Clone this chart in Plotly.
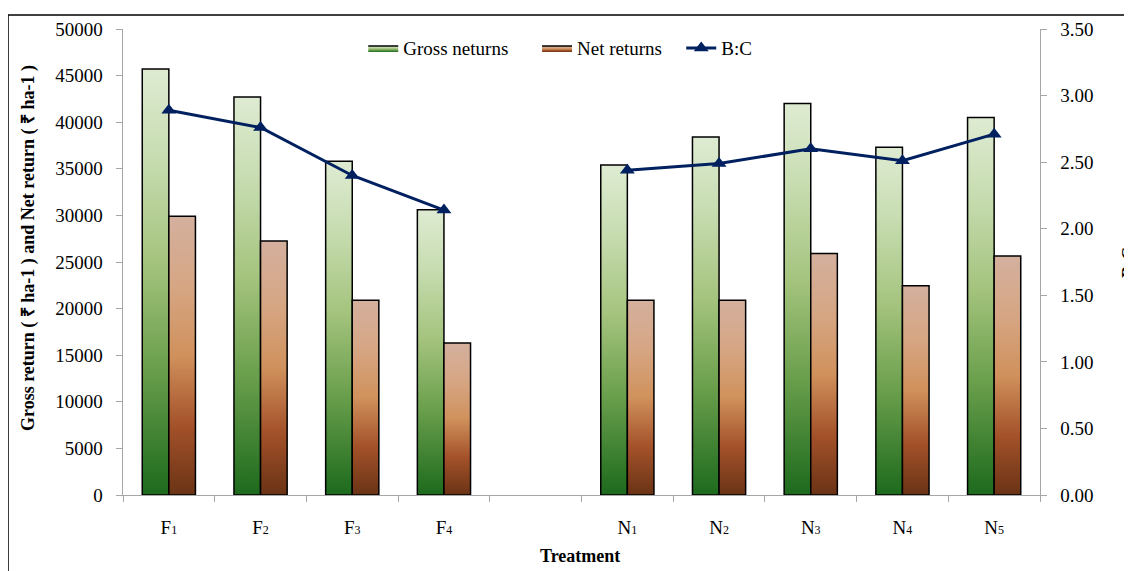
import plotly.graph_objects as go

# ---- data ----
categories = ["F1", "F2", "F3", "F4", "", "N1", "N2", "N3", "N4", "N5"]
tick_letters = ["F", "F", "F", "F", "", "N", "N", "N", "N", "N"]
tick_subs = ["1", "2", "3", "4", "", "1", "2", "3", "4", "5"]
gross_returns = [45700, 42700, 35800, 30600, None, 35400, 38400, 42000, 37300, 40500]
net_returns = [29900, 27250, 20900, 16300, None, 20900, 20900, 25900, 22450, 25650]
bc_ratio = [2.89, 2.76, 2.40, 2.14, None, 2.44, 2.49, 2.60, 2.51, 2.71]
series_names = ["Gross neturns", "Net returns", "B:C"]

# ---- styling ----
FONT = "Liberation Serif, Times New Roman, serif"
GREEN_SCALE = [[0, "#1D6A1D"], [0.3, "#6A9F4C"], [0.55, "#A5C47E"], [0.8, "#C8DDB2"], [1, "#DEEBD2"]]
BROWN_SCALE = [[0, "#6A3315"], [0.25, "#A4522A"], [0.5, "#D0915C"], [0.75, "#D6A684"], [1, "#D4B09E"]]
BAR_W = 0.29
AXIS_GREY = "#A6A6A6"
NBSP = "\u00a0"

positions = list(range(len(categories)))
tick_labels = [
    (f"{l}<span style='font-size:12px'>{s}</span>" if l else "")
    for l, s in zip(tick_letters, tick_subs)
]

fig = go.Figure()


def add_bars(values, offset_sign, scale, name, legend_pad):
    first = True
    for pos, v in zip(positions, values):
        if v is None:
            continue
        if offset_sign < 0:
            x0, x1 = pos - BAR_W, pos
        else:
            x0, x1 = pos, pos + BAR_W
        fig.add_trace(go.Scatter(
            x=[x0, x0, x1, x1, x0], y=[0, v, v, 0, 0],
            mode="lines", fill="toself",
            fillgradient=dict(type="vertical", colorscale=scale, start=0, stop=v),
            line=dict(color="#000000", width=1.5),
            name=name + NBSP * legend_pad, legendgroup=name, showlegend=first,
            hoverinfo="skip",
        ))
        first = False


add_bars(gross_returns, -1, GREEN_SCALE, series_names[0], 5)
add_bars(net_returns, +1, BROWN_SCALE, series_names[1], 3)

fig.add_trace(go.Scatter(
    x=positions, y=bc_ratio, yaxis="y2", name=series_names[2],
    mode="lines+markers",
    line=dict(color="#002060", width=3),
    marker=dict(symbol="triangle-up", size=13, color="#002060"),
    connectgaps=False,
))

fig.update_layout(
    width=1124, height=563,
    margin=dict(l=115, r=92, t=21, b=76),
    paper_bgcolor="white", plot_bgcolor="white",
    font=dict(family=FONT, size=19, color="black"),
    showlegend=True,
    legend=dict(orientation="h", x=0.262, xanchor="left", y=0.959, yanchor="middle",
                font=dict(family=FONT, size=19, color="black"),
                bgcolor="rgba(0,0,0,0)", itemwidth=30, traceorder="normal"),
    xaxis=dict(
        range=[-0.5, 9.5], tickmode="array", tickvals=positions, ticktext=tick_labels,
        ticks="outside", ticklen=15, tickcolor="rgba(0,0,0,0)",
        showline=True, linecolor=AXIS_GREY, linewidth=1, showgrid=False, zeroline=False,
        minor=dict(tickmode="array", tickvals=[p - 0.5 for p in positions] + [positions[-1] + 0.5],
                   ticks="outside", ticklen=6, tickcolor=AXIS_GREY, showgrid=False),
        tickfont=dict(family=FONT, size=19, color="black"),
    ),
    yaxis=dict(
        range=[0, 50000], dtick=5000, tick0=0, tickformat="d",
        ticks="outside", ticklen=6, tickcolor=AXIS_GREY,
        showline=True, linecolor=AXIS_GREY, linewidth=1, showgrid=False, zeroline=False,
        ticksuffix="  ", tickfont=dict(family=FONT, size=19, color="black"),
    ),
    yaxis2=dict(
        range=[0, 3.5], dtick=0.5, tick0=0, tickformat=".2f", overlaying="y", side="right",
        ticks="outside", ticklen=6, tickcolor=AXIS_GREY,
        showline=True, linecolor=AXIS_GREY, linewidth=1, showgrid=False, zeroline=False,
        tickprefix="  ", tickfont=dict(family=FONT, size=19, color="black"),
    ),
    annotations=[
        dict(text="<b>Gross return ( ₹ ha-1 ) and Net return ( ₹ ha-1 )</b>", textangle=-90,
             xref="paper", yref="paper", x=-0.1036, y=0.53, xanchor="center", yanchor="middle",
             showarrow=False, font=dict(family=FONT, size=18, color="black")),
        dict(text="<b>Treatment</b>", xref="paper", yref="paper", x=0.498, y=-0.131,
             xanchor="center", yanchor="middle", showarrow=False,
             font=dict(family=FONT, size=18, color="black")),
        dict(text="<b>B:C</b>", textangle=-90, xref="paper", yref="paper", x=1.097, y=0.5,
             xanchor="center", yanchor="middle", showarrow=False,
             font=dict(family=FONT, size=18, color="black")),
    ],
    shapes=[
        dict(type="rect", xref="paper", yref="paper", x0=-0.1254, x1=1.3, y0=-0.4, y1=1.030,
             line=dict(color="black", width=1.5), fillcolor="rgba(0,0,0,0)", layer="below"),
    ],
)

fig.write_html("out.html")
